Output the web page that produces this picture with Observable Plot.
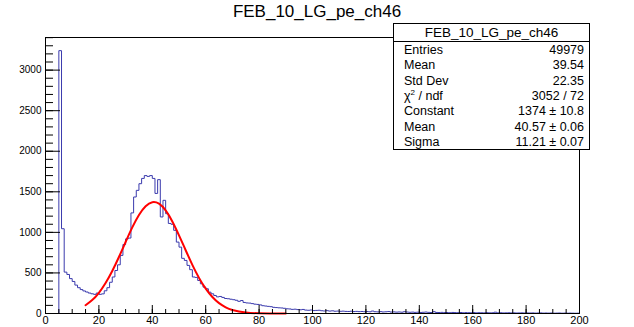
<!DOCTYPE html>
<html><head><meta charset="utf-8">
<script src="https://cdn.jsdelivr.net/npm/d3@7"></script>
<script src="https://cdn.jsdelivr.net/npm/@observablehq/plot@0.6"></script>
<style>
body{margin:0;background:#fff;font-family:"Liberation Sans",Arial,sans-serif;}
#wrap{position:relative;width:634px;height:327px;overflow:hidden;background:#fff;}
#wrap svg{position:absolute;left:0;top:0;}
#title{position:absolute;left:0;top:3px;width:634px;text-align:center;font-size:17px;line-height:18px;color:#000;}
#stats{position:absolute;left:393px;top:23px;width:195px;height:125px;border:1px solid #000;background:#fff;font-size:12.5px;color:#000;}
#stats .hdr{position:absolute;left:0;top:0;width:195px;height:17px;line-height:17px;text-align:center;font-size:13.5px;border-bottom:1px solid #000;}
#stats .row{position:absolute;left:10px;width:180px;height:15px;line-height:15px;}
#stats .row .v{position:absolute;right:0;top:0;}
#stats sup{font-size:8px;position:relative;top:-5px;vertical-align:baseline;line-height:0;}
</style></head><body>
<div id="wrap"><div id="title"></div><div id="stats"></div></div>
<script>
const histTitle = "FEB_10_LG_pe_ch46";
// bin lower edges 0..199, width 1
const binLow = d3.range(0, 200);
const counts = [
0,0,0,0,0,3240,1045,510,481,430,
395,350,318,295,278,265,252,243,236,252,
236,242,280,318,385,450,530,600,716,850,
920,930,1240,1436,1518,1600,1665,1700,1690,1700,
1665,1480,1650,1190,1395,1230,1110,1100,1025,880,
818,680,654,593,540,450,445,407,366,325,
305,263,243,222,205,210,198,185,182,176,
170,163,150,160,136,130,128,122,115,112,
106,96,92,88,84,76,73,70,68,64,
58,56,51,53,48,46,50,42,40,43,
36,38,40,34,31,35,30,33,28,30,
27,29,26,25,28,24,26,23,25,22,
24,21,30,22,20,23,19,21,24,18,
20,17,19,16,22,18,15,17,14,16,
13,15,18,14,12,22,13,12,14,11,
12,10,13,11,10,12,9,11,10,9,
11,8,10,9,8,10,8,9,16,8,
9,7,8,9,7,8,6,7,8,6,
7,6,7,5,6,7,5,6,5,6,
4,5,6,4,5,4,5,4,3,4];
// red fit curve
const fitX = [15,17.5,20,22.5,25,27.5,30,32.5,35,37.5,40,42.5,45,47.5,50,52.5,55,57.5,60,62.5,65,67.5,70,75,80,85,90];
const fitY = [102,165,255,375,523,696,881,1061,1215,1323,1372,1354,1271,1135,964,780,600,439,306,203,128,77,44,12,3,1,0];
const xMajor = [0,20,40,60,80,100,120,140,160,180,200];
const yMajor = [0,500,1000,1500,2000,2500,3000];
const xMinor = d3.range(0, 201, 5);
const yMinor = d3.range(0, 3401, 100);
const statNames = ["Entries","Mean","Std Dev","χ<sup>2</sup> / ndf","Constant","Mean","Sigma"];
const statValues = ["49979","39.54","22.35","3052 / 72","1374 ± 10.8","40.57 ± 0.06","11.21 ± 0.07"];

const histPts = binLow.map((x, i) => ({x, y: counts[i]}));
histPts.push({x: 200, y: counts[199]});
const fitPts = fitX.map((x, i) => ({x, y: fitY[i]}));

const fw = 634 - 45 - 55, fh = 327 - 37 - 14;
const chart = Plot.plot({
  width: 634, height: 327,
  marginLeft: 45, marginRight: 55, marginTop: 37, marginBottom: 14,
  x: {domain: [0, 200], label: null},
  y: {domain: [0, 3402], label: null},
  style: {fontFamily: "Liberation Sans, Arial, sans-serif", background: "white", overflow: "visible", color: "black"},
  marks: [
    Plot.lineY(histPts, {x: "x", y: "y", curve: "step-after", stroke: "#3a3aad", strokeWidth: 1}),
    Plot.line(fitPts, {x: "x", y: "y", curve: "natural", stroke: "#ff0000", strokeWidth: 2}),
    Plot.tickX(xMinor, {x: d => d, insetTop: fh - 4, stroke: "#000"}),
    Plot.tickX(xMajor, {x: d => d, insetTop: fh - 8, stroke: "#000"}),
    Plot.tickY(yMinor, {y: d => d, insetRight: fw - 8, stroke: "#000"}),
    Plot.tickY(yMajor, {y: d => d, insetRight: fw - 15, stroke: "#000"}),
    Plot.axisX(xMajor, {tickSize: 0, tickPadding: 3, fontSize: 11, tickFormat: "d", label: null}),
    Plot.axisY(yMajor, {tickSize: 0, tickPadding: 4, fontSize: 10, tickFormat: "d", label: null}),
    Plot.frame({stroke: "#000"})
  ]
});
const wrap = document.getElementById("wrap");
wrap.insertBefore(chart, wrap.firstChild);
document.getElementById("title").textContent = histTitle;
const stats = d3.select("#stats");
stats.append("div").attr("class", "hdr").text(histTitle);
statNames.forEach((n, i) => {
  const r = stats.append("div").attr("class", "row").style("top", (19 + i * 15.3) + "px");
  r.append("span").html(n);
  r.append("span").attr("class", "v").text(statValues[i]);
});
</script>
</body></html>
